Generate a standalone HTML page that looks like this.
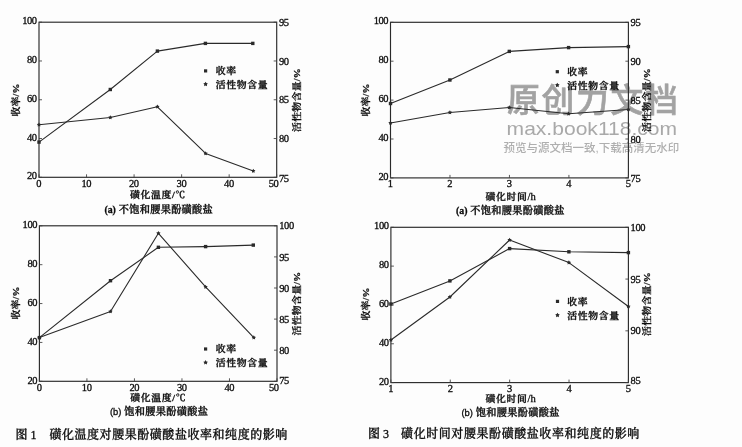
<!DOCTYPE html>
<html lang="zh-CN">
<head>
<meta charset="utf-8">
<title>磺化温度与磺化时间对腰果酚磺酸盐收率和纯度的影响</title>
<style>
html,body{margin:0;padding:0;background:#fdfdfd;}
body{width:742px;height:447px;overflow:hidden;}
svg{display:block;will-change:transform;transform:translateZ(0);}
</style>
</head>
<body>
<svg width="742" height="447" viewBox="0 0 742 447">
<rect x="0" y="0" width="742" height="447" fill="#fdfdfd"/>
<text x="507.00" y="112.20" font-size="32.8" text-anchor="start" font-family='"Liberation Sans", "Noto Sans CJK SC", sans-serif' font-weight="500" fill="#a2a2a2"  letter-spacing="1.7" stroke="#a2a2a2" stroke-width="0.6">原创力文档</text>
<text x="506.60" y="135.00" font-size="19" text-anchor="start" font-family='"Liberation Sans", "Noto Sans CJK SC", sans-serif' font-weight="400" fill="#a9a9a9"  textLength="170.5" lengthAdjust="spacingAndGlyphs">max.book118.com</text>
<text x="503.40" y="151.70" font-size="11.8" text-anchor="start" font-family='"Liberation Sans", "Noto Sans CJK SC", sans-serif' font-weight="500" fill="#afafaf"  textLength="176" lengthAdjust="spacingAndGlyphs">预览与源文档一致,下载高清无水印</text>
<rect x="39.00" y="22.20" width="237.70" height="155.10" fill="none" stroke="#2a2a2a" stroke-width="1.15"/>
<line x1="39.00" y1="22.20" x2="42.00" y2="22.20" stroke="#3c3c3c" stroke-width="0.85"/>
<text x="36.70" y="24.20" font-size="10.5" text-anchor="end" font-family='"Liberation Serif", "Noto Serif CJK SC", serif' font-weight="400" fill="#0c0c0c" stroke="#0c0c0c" stroke-width="0.3" letter-spacing="-0.4">100</text>
<line x1="39.00" y1="60.98" x2="42.00" y2="60.98" stroke="#3c3c3c" stroke-width="0.85"/>
<text x="36.70" y="62.98" font-size="10.5" text-anchor="end" font-family='"Liberation Serif", "Noto Serif CJK SC", serif' font-weight="400" fill="#0c0c0c" stroke="#0c0c0c" stroke-width="0.3" letter-spacing="-0.4">80</text>
<line x1="39.00" y1="99.75" x2="42.00" y2="99.75" stroke="#3c3c3c" stroke-width="0.85"/>
<text x="36.70" y="101.75" font-size="10.5" text-anchor="end" font-family='"Liberation Serif", "Noto Serif CJK SC", serif' font-weight="400" fill="#0c0c0c" stroke="#0c0c0c" stroke-width="0.3" letter-spacing="-0.4">60</text>
<line x1="39.00" y1="138.53" x2="42.00" y2="138.53" stroke="#3c3c3c" stroke-width="0.85"/>
<text x="36.70" y="140.53" font-size="10.5" text-anchor="end" font-family='"Liberation Serif", "Noto Serif CJK SC", serif' font-weight="400" fill="#0c0c0c" stroke="#0c0c0c" stroke-width="0.3" letter-spacing="-0.4">40</text>
<line x1="39.00" y1="177.30" x2="42.00" y2="177.30" stroke="#3c3c3c" stroke-width="0.85"/>
<text x="36.70" y="179.30" font-size="10.5" text-anchor="end" font-family='"Liberation Serif", "Noto Serif CJK SC", serif' font-weight="400" fill="#0c0c0c" stroke="#0c0c0c" stroke-width="0.3" letter-spacing="-0.4">20</text>
<line x1="273.70" y1="22.20" x2="276.70" y2="22.20" stroke="#3c3c3c" stroke-width="0.85"/>
<text x="278.90" y="25.80" font-size="10.5" text-anchor="start" font-family='"Liberation Serif", "Noto Serif CJK SC", serif' font-weight="400" fill="#0c0c0c" stroke="#0c0c0c" stroke-width="0.3" letter-spacing="-0.4">95</text>
<line x1="273.70" y1="60.98" x2="276.70" y2="60.98" stroke="#3c3c3c" stroke-width="0.85"/>
<text x="278.90" y="64.58" font-size="10.5" text-anchor="start" font-family='"Liberation Serif", "Noto Serif CJK SC", serif' font-weight="400" fill="#0c0c0c" stroke="#0c0c0c" stroke-width="0.3" letter-spacing="-0.4">90</text>
<line x1="273.70" y1="99.75" x2="276.70" y2="99.75" stroke="#3c3c3c" stroke-width="0.85"/>
<text x="278.90" y="103.35" font-size="10.5" text-anchor="start" font-family='"Liberation Serif", "Noto Serif CJK SC", serif' font-weight="400" fill="#0c0c0c" stroke="#0c0c0c" stroke-width="0.3" letter-spacing="-0.4">85</text>
<line x1="273.70" y1="138.53" x2="276.70" y2="138.53" stroke="#3c3c3c" stroke-width="0.85"/>
<text x="278.90" y="142.12" font-size="10.5" text-anchor="start" font-family='"Liberation Serif", "Noto Serif CJK SC", serif' font-weight="400" fill="#0c0c0c" stroke="#0c0c0c" stroke-width="0.3" letter-spacing="-0.4">80</text>
<line x1="273.70" y1="177.30" x2="276.70" y2="177.30" stroke="#3c3c3c" stroke-width="0.85"/>
<text x="278.90" y="181.70" font-size="10.5" text-anchor="start" font-family='"Liberation Serif", "Noto Serif CJK SC", serif' font-weight="400" fill="#0c0c0c" stroke="#0c0c0c" stroke-width="0.3" letter-spacing="-0.4">75</text>
<line x1="39.00" y1="174.30" x2="39.00" y2="177.30" stroke="#3c3c3c" stroke-width="0.85"/>
<text x="38.80" y="186.70" font-size="10.5" text-anchor="middle" font-family='"Liberation Serif", "Noto Serif CJK SC", serif' font-weight="400" fill="#0c0c0c" stroke="#0c0c0c" stroke-width="0.3" letter-spacing="-0.4">0</text>
<line x1="86.54" y1="174.30" x2="86.54" y2="177.30" stroke="#3c3c3c" stroke-width="0.85"/>
<text x="86.34" y="186.70" font-size="10.5" text-anchor="middle" font-family='"Liberation Serif", "Noto Serif CJK SC", serif' font-weight="400" fill="#0c0c0c" stroke="#0c0c0c" stroke-width="0.3" letter-spacing="-0.4">10</text>
<line x1="134.08" y1="174.30" x2="134.08" y2="177.30" stroke="#3c3c3c" stroke-width="0.85"/>
<text x="133.88" y="186.70" font-size="10.5" text-anchor="middle" font-family='"Liberation Serif", "Noto Serif CJK SC", serif' font-weight="400" fill="#0c0c0c" stroke="#0c0c0c" stroke-width="0.3" letter-spacing="-0.4">20</text>
<line x1="181.62" y1="174.30" x2="181.62" y2="177.30" stroke="#3c3c3c" stroke-width="0.85"/>
<text x="181.42" y="186.70" font-size="10.5" text-anchor="middle" font-family='"Liberation Serif", "Noto Serif CJK SC", serif' font-weight="400" fill="#0c0c0c" stroke="#0c0c0c" stroke-width="0.3" letter-spacing="-0.4">30</text>
<line x1="229.16" y1="174.30" x2="229.16" y2="177.30" stroke="#3c3c3c" stroke-width="0.85"/>
<text x="228.96" y="186.70" font-size="10.5" text-anchor="middle" font-family='"Liberation Serif", "Noto Serif CJK SC", serif' font-weight="400" fill="#0c0c0c" stroke="#0c0c0c" stroke-width="0.3" letter-spacing="-0.4">40</text>
<line x1="276.70" y1="174.30" x2="276.70" y2="177.30" stroke="#3c3c3c" stroke-width="0.85"/>
<text x="273.50" y="186.70" font-size="10.5" text-anchor="middle" font-family='"Liberation Serif", "Noto Serif CJK SC", serif' font-weight="400" fill="#0c0c0c" stroke="#0c0c0c" stroke-width="0.3" letter-spacing="-0.4">50</text>
<polyline points="39.00,142.10 110.30,89.50 157.40,51.10 205.40,43.40 252.80,43.40" fill="none" stroke="#2a2a2a" stroke-width="1.1" stroke-linejoin="round"/>
<rect x="37.30" y="140.40" width="3.40" height="3.40" fill="#2a2a2a"/>
<rect x="108.60" y="87.80" width="3.40" height="3.40" fill="#2a2a2a"/>
<rect x="155.70" y="49.40" width="3.40" height="3.40" fill="#2a2a2a"/>
<rect x="203.70" y="41.70" width="3.40" height="3.40" fill="#2a2a2a"/>
<rect x="251.10" y="41.70" width="3.40" height="3.40" fill="#2a2a2a"/>
<polyline points="39.00,124.80 110.30,117.50 157.40,106.80 205.60,153.40 253.30,170.90" fill="none" stroke="#2a2a2a" stroke-width="1.1" stroke-linejoin="round"/>
<polygon points="39.00,122.55 39.73,123.79 41.14,124.10 40.19,125.19 40.32,126.62 39.00,126.05 37.68,126.62 37.81,125.19 36.86,124.10 38.27,123.79" fill="#2a2a2a"/>
<polygon points="110.30,115.25 111.03,116.49 112.44,116.80 111.49,117.89 111.62,119.32 110.30,118.75 108.98,119.32 109.11,117.89 108.16,116.80 109.57,116.49" fill="#2a2a2a"/>
<polygon points="157.40,104.55 158.13,105.79 159.54,106.10 158.59,107.19 158.72,108.62 157.40,108.05 156.08,108.62 156.21,107.19 155.26,106.10 156.67,105.79" fill="#2a2a2a"/>
<polygon points="205.60,151.15 206.33,152.39 207.74,152.70 206.79,153.79 206.92,155.22 205.60,154.65 204.28,155.22 204.41,153.79 203.46,152.70 204.87,152.39" fill="#2a2a2a"/>
<polygon points="253.30,168.65 254.03,169.89 255.44,170.20 254.49,171.29 254.62,172.72 253.30,172.15 251.98,172.72 252.11,171.29 251.16,170.20 252.57,169.89" fill="#2a2a2a"/>
<rect x="204.00" y="69.30" width="3.20" height="3.20" fill="#2a2a2a"/>
<polygon points="205.60,81.80 206.39,83.11 207.88,83.46 206.88,84.62 207.01,86.14 205.60,85.55 204.19,86.14 204.32,84.62 203.32,83.46 204.81,83.11" fill="#2a2a2a"/>
<text transform="translate(215.70 74.20) scale(1 0.88)" font-size="9.9" text-anchor="start" font-family='"Liberation Serif", "Noto Serif CJK SC", serif' font-weight="600" fill="#0c0c0c" stroke="#0c0c0c" stroke-width="0.3" letter-spacing="0.62">收率</text>
<text transform="translate(215.70 87.50) scale(1 0.88)" font-size="9.9" text-anchor="start" font-family='"Liberation Serif", "Noto Serif CJK SC", serif' font-weight="600" fill="#0c0c0c" stroke="#0c0c0c" stroke-width="0.3" letter-spacing="0.62">活性物含量</text>
<text transform="translate(157.85 197.90) scale(1 0.88)" font-size="9.9" text-anchor="middle" font-family='"Liberation Serif", "Noto Serif CJK SC", serif' font-weight="600" fill="#0c0c0c" stroke="#0c0c0c" stroke-width="0.3" letter-spacing="0.62">磺化温度/℃</text>
<text x="158.75" y="213.40" font-size="10.2" text-anchor="middle" font-family='"Liberation Serif", "Noto Serif CJK SC", serif' font-weight="600" fill="#0c0c0c" stroke="#0c0c0c" stroke-width="0.3" letter-spacing="0.3"><tspan font-weight="700" letter-spacing="0" font-size="9.8">(a)</tspan> 不饱和腰果酚磺酸盐</text>
<text transform="translate(18.60 100.00) rotate(-90) scale(1 0.88)" font-size="9.9" text-anchor="middle" font-family='"Liberation Serif", "Noto Serif CJK SC", serif' font-weight="600" fill="#0c0c0c" stroke="#0c0c0c" stroke-width="0.3" letter-spacing="0.2">收率/%</text>
<text transform="translate(299.60 100.00) rotate(-90) scale(1 0.88)" font-size="9.9" text-anchor="middle" font-family='"Liberation Serif", "Noto Serif CJK SC", serif' font-weight="600" fill="#0c0c0c" stroke="#0c0c0c" stroke-width="0.3" letter-spacing="0.28">活性物含量/%</text>
<rect x="390.50" y="22.30" width="237.90" height="155.60" fill="none" stroke="#2a2a2a" stroke-width="1.15"/>
<line x1="390.50" y1="22.30" x2="393.50" y2="22.30" stroke="#3c3c3c" stroke-width="0.85"/>
<text x="388.20" y="24.30" font-size="10.5" text-anchor="end" font-family='"Liberation Serif", "Noto Serif CJK SC", serif' font-weight="400" fill="#0c0c0c" stroke="#0c0c0c" stroke-width="0.3" letter-spacing="-0.4">100</text>
<line x1="390.50" y1="61.20" x2="393.50" y2="61.20" stroke="#3c3c3c" stroke-width="0.85"/>
<text x="388.20" y="63.20" font-size="10.5" text-anchor="end" font-family='"Liberation Serif", "Noto Serif CJK SC", serif' font-weight="400" fill="#0c0c0c" stroke="#0c0c0c" stroke-width="0.3" letter-spacing="-0.4">80</text>
<line x1="390.50" y1="100.10" x2="393.50" y2="100.10" stroke="#3c3c3c" stroke-width="0.85"/>
<text x="388.20" y="102.10" font-size="10.5" text-anchor="end" font-family='"Liberation Serif", "Noto Serif CJK SC", serif' font-weight="400" fill="#0c0c0c" stroke="#0c0c0c" stroke-width="0.3" letter-spacing="-0.4">60</text>
<line x1="390.50" y1="139.00" x2="393.50" y2="139.00" stroke="#3c3c3c" stroke-width="0.85"/>
<text x="388.20" y="141.00" font-size="10.5" text-anchor="end" font-family='"Liberation Serif", "Noto Serif CJK SC", serif' font-weight="400" fill="#0c0c0c" stroke="#0c0c0c" stroke-width="0.3" letter-spacing="-0.4">40</text>
<line x1="390.50" y1="177.90" x2="393.50" y2="177.90" stroke="#3c3c3c" stroke-width="0.85"/>
<text x="388.20" y="179.90" font-size="10.5" text-anchor="end" font-family='"Liberation Serif", "Noto Serif CJK SC", serif' font-weight="400" fill="#0c0c0c" stroke="#0c0c0c" stroke-width="0.3" letter-spacing="-0.4">20</text>
<line x1="625.40" y1="22.30" x2="628.40" y2="22.30" stroke="#3c3c3c" stroke-width="0.85"/>
<text x="630.60" y="25.90" font-size="10.5" text-anchor="start" font-family='"Liberation Serif", "Noto Serif CJK SC", serif' font-weight="400" fill="#0c0c0c" stroke="#0c0c0c" stroke-width="0.3" letter-spacing="-0.4">95</text>
<line x1="625.40" y1="61.20" x2="628.40" y2="61.20" stroke="#3c3c3c" stroke-width="0.85"/>
<text x="630.60" y="64.80" font-size="10.5" text-anchor="start" font-family='"Liberation Serif", "Noto Serif CJK SC", serif' font-weight="400" fill="#0c0c0c" stroke="#0c0c0c" stroke-width="0.3" letter-spacing="-0.4">90</text>
<line x1="625.40" y1="100.10" x2="628.40" y2="100.10" stroke="#3c3c3c" stroke-width="0.85"/>
<text x="630.60" y="103.70" font-size="10.5" text-anchor="start" font-family='"Liberation Serif", "Noto Serif CJK SC", serif' font-weight="400" fill="#0c0c0c" stroke="#0c0c0c" stroke-width="0.3" letter-spacing="-0.4">85</text>
<line x1="625.40" y1="139.00" x2="628.40" y2="139.00" stroke="#3c3c3c" stroke-width="0.85"/>
<text x="630.60" y="142.60" font-size="10.5" text-anchor="start" font-family='"Liberation Serif", "Noto Serif CJK SC", serif' font-weight="400" fill="#0c0c0c" stroke="#0c0c0c" stroke-width="0.3" letter-spacing="-0.4">80</text>
<line x1="625.40" y1="177.90" x2="628.40" y2="177.90" stroke="#3c3c3c" stroke-width="0.85"/>
<text x="630.60" y="181.80" font-size="10.5" text-anchor="start" font-family='"Liberation Serif", "Noto Serif CJK SC", serif' font-weight="400" fill="#0c0c0c" stroke="#0c0c0c" stroke-width="0.3" letter-spacing="-0.4">75</text>
<line x1="390.50" y1="174.90" x2="390.50" y2="177.90" stroke="#3c3c3c" stroke-width="0.85"/>
<text x="390.30" y="187.30" font-size="10.5" text-anchor="middle" font-family='"Liberation Serif", "Noto Serif CJK SC", serif' font-weight="400" fill="#0c0c0c" stroke="#0c0c0c" stroke-width="0.3" letter-spacing="-0.4">1</text>
<line x1="449.98" y1="174.90" x2="449.98" y2="177.90" stroke="#3c3c3c" stroke-width="0.85"/>
<text x="449.78" y="187.30" font-size="10.5" text-anchor="middle" font-family='"Liberation Serif", "Noto Serif CJK SC", serif' font-weight="400" fill="#0c0c0c" stroke="#0c0c0c" stroke-width="0.3" letter-spacing="-0.4">2</text>
<line x1="509.45" y1="174.90" x2="509.45" y2="177.90" stroke="#3c3c3c" stroke-width="0.85"/>
<text x="509.25" y="187.30" font-size="10.5" text-anchor="middle" font-family='"Liberation Serif", "Noto Serif CJK SC", serif' font-weight="400" fill="#0c0c0c" stroke="#0c0c0c" stroke-width="0.3" letter-spacing="-0.4">3</text>
<line x1="568.92" y1="174.90" x2="568.92" y2="177.90" stroke="#3c3c3c" stroke-width="0.85"/>
<text x="568.72" y="187.30" font-size="10.5" text-anchor="middle" font-family='"Liberation Serif", "Noto Serif CJK SC", serif' font-weight="400" fill="#0c0c0c" stroke="#0c0c0c" stroke-width="0.3" letter-spacing="-0.4">4</text>
<line x1="628.40" y1="174.90" x2="628.40" y2="177.90" stroke="#3c3c3c" stroke-width="0.85"/>
<text x="628.20" y="187.30" font-size="10.5" text-anchor="middle" font-family='"Liberation Serif", "Noto Serif CJK SC", serif' font-weight="400" fill="#0c0c0c" stroke="#0c0c0c" stroke-width="0.3" letter-spacing="-0.4">5</text>
<polyline points="390.50,103.50 449.90,80.00 509.30,51.40 568.60,47.60 628.40,46.60" fill="none" stroke="#2a2a2a" stroke-width="1.1" stroke-linejoin="round"/>
<rect x="388.80" y="101.80" width="3.40" height="3.40" fill="#2a2a2a"/>
<rect x="448.20" y="78.30" width="3.40" height="3.40" fill="#2a2a2a"/>
<rect x="507.60" y="49.70" width="3.40" height="3.40" fill="#2a2a2a"/>
<rect x="566.90" y="45.90" width="3.40" height="3.40" fill="#2a2a2a"/>
<rect x="626.70" y="44.90" width="3.40" height="3.40" fill="#2a2a2a"/>
<polyline points="390.50,123.00 449.90,112.50 509.30,107.50 568.60,113.80 628.40,109.50" fill="none" stroke="#2a2a2a" stroke-width="1.1" stroke-linejoin="round"/>
<polygon points="390.50,120.75 391.23,121.99 392.64,122.30 391.69,123.39 391.82,124.82 390.50,124.25 389.18,124.82 389.31,123.39 388.36,122.30 389.77,121.99" fill="#2a2a2a"/>
<polygon points="449.90,110.25 450.63,111.49 452.04,111.80 451.09,112.89 451.22,114.32 449.90,113.75 448.58,114.32 448.71,112.89 447.76,111.80 449.17,111.49" fill="#2a2a2a"/>
<polygon points="509.30,105.25 510.03,106.49 511.44,106.80 510.49,107.89 510.62,109.32 509.30,108.75 507.98,109.32 508.11,107.89 507.16,106.80 508.57,106.49" fill="#2a2a2a"/>
<polygon points="568.60,111.55 569.33,112.79 570.74,113.10 569.79,114.19 569.92,115.62 568.60,115.05 567.28,115.62 567.41,114.19 566.46,113.10 567.87,112.79" fill="#2a2a2a"/>
<polygon points="628.40,107.25 629.13,108.49 630.54,108.80 629.59,109.89 629.72,111.32 628.40,110.75 627.08,111.32 627.21,109.89 626.26,108.80 627.67,108.49" fill="#2a2a2a"/>
<rect x="555.70" y="70.10" width="3.20" height="3.20" fill="#2a2a2a"/>
<polygon points="557.30,82.80 558.09,84.11 559.58,84.46 558.58,85.62 558.71,87.14 557.30,86.55 555.89,87.14 556.02,85.62 555.02,84.46 556.51,84.11" fill="#2a2a2a"/>
<text transform="translate(567.20 75.00) scale(1 0.88)" font-size="9.9" text-anchor="start" font-family='"Liberation Serif", "Noto Serif CJK SC", serif' font-weight="600" fill="#0c0c0c" stroke="#0c0c0c" stroke-width="0.3" letter-spacing="0.62">收率</text>
<text transform="translate(567.20 88.50) scale(1 0.88)" font-size="9.9" text-anchor="start" font-family='"Liberation Serif", "Noto Serif CJK SC", serif' font-weight="600" fill="#0c0c0c" stroke="#0c0c0c" stroke-width="0.3" letter-spacing="0.62">活性物含量</text>
<text transform="translate(485.40 199.80) scale(1 0.88)" font-size="9.9" text-anchor="start" font-family='"Liberation Serif", "Noto Serif CJK SC", serif' font-weight="600" fill="#0c0c0c" stroke="#0c0c0c" stroke-width="0.3" letter-spacing="0.62">磺化时间<tspan font-weight="400" letter-spacing="0" font-size="10.6">/h</tspan></text>
<text x="510.35" y="213.60" font-size="10.2" text-anchor="middle" font-family='"Liberation Serif", "Noto Serif CJK SC", serif' font-weight="600" fill="#0c0c0c" stroke="#0c0c0c" stroke-width="0.3" letter-spacing="0.3"><tspan font-weight="700" letter-spacing="0" font-size="9.8">(a)</tspan> 不饱和腰果酚磺酸盐</text>
<text transform="translate(369.30 100.00) rotate(-90) scale(1 0.88)" font-size="9.9" text-anchor="middle" font-family='"Liberation Serif", "Noto Serif CJK SC", serif' font-weight="600" fill="#0c0c0c" stroke="#0c0c0c" stroke-width="0.3" letter-spacing="0.2">收率/%</text>
<text transform="translate(650.40 100.00) rotate(-90) scale(1 0.88)" font-size="9.9" text-anchor="middle" font-family='"Liberation Serif", "Noto Serif CJK SC", serif' font-weight="600" fill="#0c0c0c" stroke="#0c0c0c" stroke-width="0.3" letter-spacing="0.28">活性物含量/%</text>
<rect x="39.40" y="225.80" width="237.60" height="155.50" fill="none" stroke="#2a2a2a" stroke-width="1.15"/>
<line x1="39.40" y1="225.80" x2="42.40" y2="225.80" stroke="#3c3c3c" stroke-width="0.85"/>
<text x="37.10" y="228.00" font-size="10.5" text-anchor="end" font-family='"Liberation Serif", "Noto Serif CJK SC", serif' font-weight="400" fill="#0c0c0c" stroke="#0c0c0c" stroke-width="0.3" letter-spacing="-0.4">100</text>
<line x1="39.40" y1="264.68" x2="42.40" y2="264.68" stroke="#3c3c3c" stroke-width="0.85"/>
<text x="37.10" y="266.88" font-size="10.5" text-anchor="end" font-family='"Liberation Serif", "Noto Serif CJK SC", serif' font-weight="400" fill="#0c0c0c" stroke="#0c0c0c" stroke-width="0.3" letter-spacing="-0.4">80</text>
<line x1="39.40" y1="303.55" x2="42.40" y2="303.55" stroke="#3c3c3c" stroke-width="0.85"/>
<text x="37.10" y="305.75" font-size="10.5" text-anchor="end" font-family='"Liberation Serif", "Noto Serif CJK SC", serif' font-weight="400" fill="#0c0c0c" stroke="#0c0c0c" stroke-width="0.3" letter-spacing="-0.4">60</text>
<line x1="39.40" y1="342.43" x2="42.40" y2="342.43" stroke="#3c3c3c" stroke-width="0.85"/>
<text x="37.10" y="344.62" font-size="10.5" text-anchor="end" font-family='"Liberation Serif", "Noto Serif CJK SC", serif' font-weight="400" fill="#0c0c0c" stroke="#0c0c0c" stroke-width="0.3" letter-spacing="-0.4">40</text>
<line x1="39.40" y1="381.30" x2="42.40" y2="381.30" stroke="#3c3c3c" stroke-width="0.85"/>
<text x="37.10" y="383.50" font-size="10.5" text-anchor="end" font-family='"Liberation Serif", "Noto Serif CJK SC", serif' font-weight="400" fill="#0c0c0c" stroke="#0c0c0c" stroke-width="0.3" letter-spacing="-0.4">20</text>
<line x1="274.00" y1="225.80" x2="277.00" y2="225.80" stroke="#3c3c3c" stroke-width="0.85"/>
<text x="279.20" y="229.40" font-size="10.5" text-anchor="start" font-family='"Liberation Serif", "Noto Serif CJK SC", serif' font-weight="400" fill="#0c0c0c" stroke="#0c0c0c" stroke-width="0.3" letter-spacing="-0.4">100</text>
<line x1="274.00" y1="256.90" x2="277.00" y2="256.90" stroke="#3c3c3c" stroke-width="0.85"/>
<text x="279.20" y="260.50" font-size="10.5" text-anchor="start" font-family='"Liberation Serif", "Noto Serif CJK SC", serif' font-weight="400" fill="#0c0c0c" stroke="#0c0c0c" stroke-width="0.3" letter-spacing="-0.4">95</text>
<line x1="274.00" y1="288.00" x2="277.00" y2="288.00" stroke="#3c3c3c" stroke-width="0.85"/>
<text x="279.20" y="291.60" font-size="10.5" text-anchor="start" font-family='"Liberation Serif", "Noto Serif CJK SC", serif' font-weight="400" fill="#0c0c0c" stroke="#0c0c0c" stroke-width="0.3" letter-spacing="-0.4">90</text>
<line x1="274.00" y1="319.10" x2="277.00" y2="319.10" stroke="#3c3c3c" stroke-width="0.85"/>
<text x="279.20" y="322.70" font-size="10.5" text-anchor="start" font-family='"Liberation Serif", "Noto Serif CJK SC", serif' font-weight="400" fill="#0c0c0c" stroke="#0c0c0c" stroke-width="0.3" letter-spacing="-0.4">85</text>
<line x1="274.00" y1="350.20" x2="277.00" y2="350.20" stroke="#3c3c3c" stroke-width="0.85"/>
<text x="279.20" y="353.80" font-size="10.5" text-anchor="start" font-family='"Liberation Serif", "Noto Serif CJK SC", serif' font-weight="400" fill="#0c0c0c" stroke="#0c0c0c" stroke-width="0.3" letter-spacing="-0.4">80</text>
<line x1="274.00" y1="381.30" x2="277.00" y2="381.30" stroke="#3c3c3c" stroke-width="0.85"/>
<text x="279.20" y="383.70" font-size="10.5" text-anchor="start" font-family='"Liberation Serif", "Noto Serif CJK SC", serif' font-weight="400" fill="#0c0c0c" stroke="#0c0c0c" stroke-width="0.3" letter-spacing="-0.4">75</text>
<line x1="39.40" y1="378.30" x2="39.40" y2="381.30" stroke="#3c3c3c" stroke-width="0.85"/>
<text x="39.20" y="390.70" font-size="10.5" text-anchor="middle" font-family='"Liberation Serif", "Noto Serif CJK SC", serif' font-weight="400" fill="#0c0c0c" stroke="#0c0c0c" stroke-width="0.3" letter-spacing="-0.4">0</text>
<line x1="86.92" y1="378.30" x2="86.92" y2="381.30" stroke="#3c3c3c" stroke-width="0.85"/>
<text x="86.72" y="390.70" font-size="10.5" text-anchor="middle" font-family='"Liberation Serif", "Noto Serif CJK SC", serif' font-weight="400" fill="#0c0c0c" stroke="#0c0c0c" stroke-width="0.3" letter-spacing="-0.4">10</text>
<line x1="134.44" y1="378.30" x2="134.44" y2="381.30" stroke="#3c3c3c" stroke-width="0.85"/>
<text x="134.24" y="390.70" font-size="10.5" text-anchor="middle" font-family='"Liberation Serif", "Noto Serif CJK SC", serif' font-weight="400" fill="#0c0c0c" stroke="#0c0c0c" stroke-width="0.3" letter-spacing="-0.4">20</text>
<line x1="181.96" y1="378.30" x2="181.96" y2="381.30" stroke="#3c3c3c" stroke-width="0.85"/>
<text x="181.76" y="390.70" font-size="10.5" text-anchor="middle" font-family='"Liberation Serif", "Noto Serif CJK SC", serif' font-weight="400" fill="#0c0c0c" stroke="#0c0c0c" stroke-width="0.3" letter-spacing="-0.4">30</text>
<line x1="229.48" y1="378.30" x2="229.48" y2="381.30" stroke="#3c3c3c" stroke-width="0.85"/>
<text x="229.28" y="390.70" font-size="10.5" text-anchor="middle" font-family='"Liberation Serif", "Noto Serif CJK SC", serif' font-weight="400" fill="#0c0c0c" stroke="#0c0c0c" stroke-width="0.3" letter-spacing="-0.4">40</text>
<line x1="277.00" y1="378.30" x2="277.00" y2="381.30" stroke="#3c3c3c" stroke-width="0.85"/>
<text x="273.80" y="390.70" font-size="10.5" text-anchor="middle" font-family='"Liberation Serif", "Noto Serif CJK SC", serif' font-weight="400" fill="#0c0c0c" stroke="#0c0c0c" stroke-width="0.3" letter-spacing="-0.4">50</text>
<polyline points="39.40,337.60 110.50,280.70 158.40,247.30 205.60,246.60 253.30,245.10" fill="none" stroke="#2a2a2a" stroke-width="1.1" stroke-linejoin="round"/>
<rect x="37.70" y="335.90" width="3.40" height="3.40" fill="#2a2a2a"/>
<rect x="108.80" y="279.00" width="3.40" height="3.40" fill="#2a2a2a"/>
<rect x="156.70" y="245.60" width="3.40" height="3.40" fill="#2a2a2a"/>
<rect x="203.90" y="244.90" width="3.40" height="3.40" fill="#2a2a2a"/>
<rect x="251.60" y="243.40" width="3.40" height="3.40" fill="#2a2a2a"/>
<polyline points="39.40,337.60 110.50,311.50 158.40,233.30 205.60,286.90 253.80,337.60" fill="none" stroke="#2a2a2a" stroke-width="1.1" stroke-linejoin="round"/>
<polygon points="39.40,335.35 40.13,336.59 41.54,336.90 40.59,337.99 40.72,339.42 39.40,338.85 38.08,339.42 38.21,337.99 37.26,336.90 38.67,336.59" fill="#2a2a2a"/>
<polygon points="110.50,309.25 111.23,310.49 112.64,310.80 111.69,311.89 111.82,313.32 110.50,312.75 109.18,313.32 109.31,311.89 108.36,310.80 109.77,310.49" fill="#2a2a2a"/>
<polygon points="158.40,231.05 159.13,232.29 160.54,232.60 159.59,233.69 159.72,235.12 158.40,234.55 157.08,235.12 157.21,233.69 156.26,232.60 157.67,232.29" fill="#2a2a2a"/>
<polygon points="205.60,284.65 206.33,285.89 207.74,286.20 206.79,287.29 206.92,288.72 205.60,288.15 204.28,288.72 204.41,287.29 203.46,286.20 204.87,285.89" fill="#2a2a2a"/>
<polygon points="253.80,335.35 254.53,336.59 255.94,336.90 254.99,337.99 255.12,339.42 253.80,338.85 252.48,339.42 252.61,337.99 251.66,336.90 253.07,336.59" fill="#2a2a2a"/>
<rect x="204.00" y="347.40" width="3.20" height="3.20" fill="#2a2a2a"/>
<polygon points="205.60,360.10 206.39,361.41 207.88,361.76 206.88,362.92 207.01,364.44 205.60,363.85 204.19,364.44 204.32,362.92 203.32,361.76 204.81,361.41" fill="#2a2a2a"/>
<text transform="translate(215.80 352.30) scale(1 0.88)" font-size="9.9" text-anchor="start" font-family='"Liberation Serif", "Noto Serif CJK SC", serif' font-weight="600" fill="#0c0c0c" stroke="#0c0c0c" stroke-width="0.3" letter-spacing="0.62">收率</text>
<text transform="translate(215.80 365.80) scale(1 0.88)" font-size="9.9" text-anchor="start" font-family='"Liberation Serif", "Noto Serif CJK SC", serif' font-weight="600" fill="#0c0c0c" stroke="#0c0c0c" stroke-width="0.3" letter-spacing="0.62">活性物含量</text>
<text transform="translate(158.20 401.40) scale(1 0.88)" font-size="9.9" text-anchor="middle" font-family='"Liberation Serif", "Noto Serif CJK SC", serif' font-weight="600" fill="#0c0c0c" stroke="#0c0c0c" stroke-width="0.3" letter-spacing="0.62">磺化温度/℃</text>
<text x="159.10" y="414.60" font-size="10.2" text-anchor="middle" font-family='"Liberation Serif", "Noto Serif CJK SC", serif' font-weight="600" fill="#0c0c0c" stroke="#0c0c0c" stroke-width="0.3" letter-spacing="0.3"><tspan font-weight="400" letter-spacing="0" font-family="Liberation Sans, sans-serif" font-size="9.4">(b)</tspan> 饱和腰果酚磺酸盐</text>
<text transform="translate(18.60 303.00) rotate(-90) scale(1 0.88)" font-size="9.9" text-anchor="middle" font-family='"Liberation Serif", "Noto Serif CJK SC", serif' font-weight="600" fill="#0c0c0c" stroke="#0c0c0c" stroke-width="0.3" letter-spacing="0.2">收率/%</text>
<text transform="translate(299.60 303.50) rotate(-90) scale(1 0.88)" font-size="9.9" text-anchor="middle" font-family='"Liberation Serif", "Noto Serif CJK SC", serif' font-weight="600" fill="#0c0c0c" stroke="#0c0c0c" stroke-width="0.3" letter-spacing="0.28">活性物含量/%</text>
<rect x="390.90" y="227.30" width="237.50" height="155.30" fill="none" stroke="#2a2a2a" stroke-width="1.15"/>
<line x1="390.90" y1="227.30" x2="393.90" y2="227.30" stroke="#3c3c3c" stroke-width="0.85"/>
<text x="388.60" y="229.30" font-size="10.5" text-anchor="end" font-family='"Liberation Serif", "Noto Serif CJK SC", serif' font-weight="400" fill="#0c0c0c" stroke="#0c0c0c" stroke-width="0.3" letter-spacing="-0.4">100</text>
<line x1="390.90" y1="266.12" x2="393.90" y2="266.12" stroke="#3c3c3c" stroke-width="0.85"/>
<text x="388.60" y="268.12" font-size="10.5" text-anchor="end" font-family='"Liberation Serif", "Noto Serif CJK SC", serif' font-weight="400" fill="#0c0c0c" stroke="#0c0c0c" stroke-width="0.3" letter-spacing="-0.4">80</text>
<line x1="390.90" y1="304.95" x2="393.90" y2="304.95" stroke="#3c3c3c" stroke-width="0.85"/>
<text x="388.60" y="306.95" font-size="10.5" text-anchor="end" font-family='"Liberation Serif", "Noto Serif CJK SC", serif' font-weight="400" fill="#0c0c0c" stroke="#0c0c0c" stroke-width="0.3" letter-spacing="-0.4">60</text>
<line x1="390.90" y1="343.78" x2="393.90" y2="343.78" stroke="#3c3c3c" stroke-width="0.85"/>
<text x="388.60" y="345.78" font-size="10.5" text-anchor="end" font-family='"Liberation Serif", "Noto Serif CJK SC", serif' font-weight="400" fill="#0c0c0c" stroke="#0c0c0c" stroke-width="0.3" letter-spacing="-0.4">40</text>
<line x1="390.90" y1="382.60" x2="393.90" y2="382.60" stroke="#3c3c3c" stroke-width="0.85"/>
<text x="388.60" y="384.60" font-size="10.5" text-anchor="end" font-family='"Liberation Serif", "Noto Serif CJK SC", serif' font-weight="400" fill="#0c0c0c" stroke="#0c0c0c" stroke-width="0.3" letter-spacing="-0.4">20</text>
<line x1="625.40" y1="227.30" x2="628.40" y2="227.30" stroke="#3c3c3c" stroke-width="0.85"/>
<text x="630.60" y="230.90" font-size="10.5" text-anchor="start" font-family='"Liberation Serif", "Noto Serif CJK SC", serif' font-weight="400" fill="#0c0c0c" stroke="#0c0c0c" stroke-width="0.3" letter-spacing="-0.4">100</text>
<line x1="625.40" y1="279.07" x2="628.40" y2="279.07" stroke="#3c3c3c" stroke-width="0.85"/>
<text x="630.60" y="282.67" font-size="10.5" text-anchor="start" font-family='"Liberation Serif", "Noto Serif CJK SC", serif' font-weight="400" fill="#0c0c0c" stroke="#0c0c0c" stroke-width="0.3" letter-spacing="-0.4">95</text>
<line x1="625.40" y1="330.83" x2="628.40" y2="330.83" stroke="#3c3c3c" stroke-width="0.85"/>
<text x="630.60" y="334.43" font-size="10.5" text-anchor="start" font-family='"Liberation Serif", "Noto Serif CJK SC", serif' font-weight="400" fill="#0c0c0c" stroke="#0c0c0c" stroke-width="0.3" letter-spacing="-0.4">90</text>
<line x1="625.40" y1="382.60" x2="628.40" y2="382.60" stroke="#3c3c3c" stroke-width="0.85"/>
<text x="630.60" y="384.10" font-size="10.5" text-anchor="start" font-family='"Liberation Serif", "Noto Serif CJK SC", serif' font-weight="400" fill="#0c0c0c" stroke="#0c0c0c" stroke-width="0.3" letter-spacing="-0.4">85</text>
<line x1="390.90" y1="379.60" x2="390.90" y2="382.60" stroke="#3c3c3c" stroke-width="0.85"/>
<text x="390.70" y="392.00" font-size="10.5" text-anchor="middle" font-family='"Liberation Serif", "Noto Serif CJK SC", serif' font-weight="400" fill="#0c0c0c" stroke="#0c0c0c" stroke-width="0.3" letter-spacing="-0.4">1</text>
<line x1="450.27" y1="379.60" x2="450.27" y2="382.60" stroke="#3c3c3c" stroke-width="0.85"/>
<text x="450.07" y="392.00" font-size="10.5" text-anchor="middle" font-family='"Liberation Serif", "Noto Serif CJK SC", serif' font-weight="400" fill="#0c0c0c" stroke="#0c0c0c" stroke-width="0.3" letter-spacing="-0.4">2</text>
<line x1="509.65" y1="379.60" x2="509.65" y2="382.60" stroke="#3c3c3c" stroke-width="0.85"/>
<text x="509.45" y="392.00" font-size="10.5" text-anchor="middle" font-family='"Liberation Serif", "Noto Serif CJK SC", serif' font-weight="400" fill="#0c0c0c" stroke="#0c0c0c" stroke-width="0.3" letter-spacing="-0.4">3</text>
<line x1="569.02" y1="379.60" x2="569.02" y2="382.60" stroke="#3c3c3c" stroke-width="0.85"/>
<text x="568.82" y="392.00" font-size="10.5" text-anchor="middle" font-family='"Liberation Serif", "Noto Serif CJK SC", serif' font-weight="400" fill="#0c0c0c" stroke="#0c0c0c" stroke-width="0.3" letter-spacing="-0.4">4</text>
<line x1="628.40" y1="379.60" x2="628.40" y2="382.60" stroke="#3c3c3c" stroke-width="0.85"/>
<text x="628.20" y="392.00" font-size="10.5" text-anchor="middle" font-family='"Liberation Serif", "Noto Serif CJK SC", serif' font-weight="400" fill="#0c0c0c" stroke="#0c0c0c" stroke-width="0.3" letter-spacing="-0.4">5</text>
<polyline points="390.90,304.00 449.90,280.90 509.60,248.60 568.90,251.80 628.40,252.60" fill="none" stroke="#2a2a2a" stroke-width="1.1" stroke-linejoin="round"/>
<rect x="389.20" y="302.30" width="3.40" height="3.40" fill="#2a2a2a"/>
<rect x="448.20" y="279.20" width="3.40" height="3.40" fill="#2a2a2a"/>
<rect x="507.90" y="246.90" width="3.40" height="3.40" fill="#2a2a2a"/>
<rect x="567.20" y="250.10" width="3.40" height="3.40" fill="#2a2a2a"/>
<rect x="626.70" y="250.90" width="3.40" height="3.40" fill="#2a2a2a"/>
<polyline points="390.90,340.00 449.90,297.00 509.60,240.00 568.90,262.60 628.40,306.50" fill="none" stroke="#2a2a2a" stroke-width="1.1" stroke-linejoin="round"/>
<polygon points="390.90,337.75 391.63,338.99 393.04,339.30 392.09,340.39 392.22,341.82 390.90,341.25 389.58,341.82 389.71,340.39 388.76,339.30 390.17,338.99" fill="#2a2a2a"/>
<polygon points="449.90,294.75 450.63,295.99 452.04,296.30 451.09,297.39 451.22,298.82 449.90,298.25 448.58,298.82 448.71,297.39 447.76,296.30 449.17,295.99" fill="#2a2a2a"/>
<polygon points="509.60,237.75 510.33,238.99 511.74,239.30 510.79,240.39 510.92,241.82 509.60,241.25 508.28,241.82 508.41,240.39 507.46,239.30 508.87,238.99" fill="#2a2a2a"/>
<polygon points="568.90,260.35 569.63,261.59 571.04,261.90 570.09,262.99 570.22,264.42 568.90,263.85 567.58,264.42 567.71,262.99 566.76,261.90 568.17,261.59" fill="#2a2a2a"/>
<polygon points="628.40,304.25 629.13,305.49 630.54,305.80 629.59,306.89 629.72,308.32 628.40,307.75 627.08,308.32 627.21,306.89 626.26,305.80 627.67,305.49" fill="#2a2a2a"/>
<rect x="555.90" y="299.80" width="3.20" height="3.20" fill="#2a2a2a"/>
<polygon points="557.50,312.80 558.29,314.11 559.78,314.46 558.78,315.62 558.91,317.14 557.50,316.55 556.09,317.14 556.22,315.62 555.22,314.46 556.71,314.11" fill="#2a2a2a"/>
<text transform="translate(567.20 304.70) scale(1 0.88)" font-size="9.9" text-anchor="start" font-family='"Liberation Serif", "Noto Serif CJK SC", serif' font-weight="600" fill="#0c0c0c" stroke="#0c0c0c" stroke-width="0.3" letter-spacing="0.62">收率</text>
<text transform="translate(567.20 318.50) scale(1 0.88)" font-size="9.9" text-anchor="start" font-family='"Liberation Serif", "Noto Serif CJK SC", serif' font-weight="600" fill="#0c0c0c" stroke="#0c0c0c" stroke-width="0.3" letter-spacing="0.62">活性物含量</text>
<text transform="translate(485.40 402.40) scale(1 0.88)" font-size="9.9" text-anchor="start" font-family='"Liberation Serif", "Noto Serif CJK SC", serif' font-weight="600" fill="#0c0c0c" stroke="#0c0c0c" stroke-width="0.3" letter-spacing="0.62">磺化时间<tspan font-weight="400" letter-spacing="0" font-size="10.6">/h</tspan></text>
<text x="510.55" y="415.90" font-size="10.2" text-anchor="middle" font-family='"Liberation Serif", "Noto Serif CJK SC", serif' font-weight="600" fill="#0c0c0c" stroke="#0c0c0c" stroke-width="0.3" letter-spacing="0.3"><tspan font-weight="400" letter-spacing="0" font-family="Liberation Sans, sans-serif" font-size="9.4">(b)</tspan> 饱和腰果酚磺酸盐</text>
<text transform="translate(369.20 304.00) rotate(-90) scale(1 0.88)" font-size="9.9" text-anchor="middle" font-family='"Liberation Serif", "Noto Serif CJK SC", serif' font-weight="600" fill="#0c0c0c" stroke="#0c0c0c" stroke-width="0.3" letter-spacing="0.2">收率/%</text>
<text transform="translate(650.20 304.00) rotate(-90) scale(1 0.88)" font-size="9.9" text-anchor="middle" font-family='"Liberation Serif", "Noto Serif CJK SC", serif' font-weight="600" fill="#0c0c0c" stroke="#0c0c0c" stroke-width="0.3" letter-spacing="0.28">活性物含量/%</text>
<text x="15.60" y="438.50" font-size="12" text-anchor="start" font-family='"Liberation Serif", "Noto Serif CJK SC", serif' font-weight="500" fill="#0c0c0c" stroke="#0c0c0c" stroke-width="0.3" >图 <tspan font-weight="400">1</tspan></text>
<text x="49.40" y="438.50" font-size="12" text-anchor="start" font-family='"Liberation Serif", "Noto Serif CJK SC", serif' font-weight="500" fill="#0c0c0c" stroke="#0c0c0c" stroke-width="0.3" letter-spacing="0.55">磺化温度对腰果酚磺酸盐收率和纯度的影响</text>
<text x="368.00" y="438.40" font-size="12" text-anchor="start" font-family='"Liberation Serif", "Noto Serif CJK SC", serif' font-weight="500" fill="#0c0c0c" stroke="#0c0c0c" stroke-width="0.3" >图 <tspan font-weight="400">3</tspan></text>
<text x="401.10" y="438.40" font-size="12" text-anchor="start" font-family='"Liberation Serif", "Noto Serif CJK SC", serif' font-weight="500" fill="#0c0c0c" stroke="#0c0c0c" stroke-width="0.3" letter-spacing="0.57">磺化时间对腰果酚磺酸盐收率和纯度的影响</text>
</svg>
</body>
</html>
